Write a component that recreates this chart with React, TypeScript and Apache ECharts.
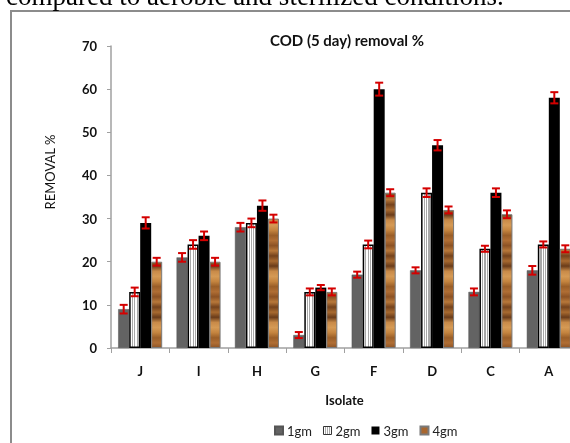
import React, { useEffect, useRef } from 'react';
import * as echarts from 'echarts';

const categories = ['J', 'I', 'H', 'G', 'F', 'D', 'C', 'A'];
const seriesNames = ['1gm', '2gm', '3gm', '4gm'];
const values1gm = [9, 21, 28, 3, 17, 18, 13, 18];
const values2gm = [13, 24, 29, 13, 24, 36, 23, 24];
const values3gm = [29, 26, 33, 14, 60, 47, 36, 58];
const values4gm = [20, 20, 30, 13, 36, 32, 31, 23];
const errors1gm = [1, 1, 1, 0.7, 0.7, 0.7, 0.8, 1];
const errors2gm = [1, 1, 1, 0.8, 0.9, 1, 0.7, 0.7];
const errors3gm = [1.3, 1, 1.2, 0.6, 1.5, 1.2, 1, 1.3];
const errors4gm = [0.9, 0.9, 0.9, 0.8, 0.8, 0.8, 0.9, 0.8];
const yMin = 0;
const yMax = 70;
const yInterval = 10;

const FONT = 'Lato, "Open Sans", sans-serif';
const BAR_W = 11;

const stripeFill = {
  type: 'linear', x: 0, y: 0, x2: 1, y2: 0,
  colorStops: [
    { offset: 0, color: '#ffffff' }, { offset: 0.2, color: '#ffffff' },
    { offset: 0.2, color: '#a8a8a8' }, { offset: 0.32, color: '#a8a8a8' },
    { offset: 0.32, color: '#ffffff' }, { offset: 0.45, color: '#ffffff' },
    { offset: 0.45, color: '#a8a8a8' }, { offset: 0.57, color: '#a8a8a8' },
    { offset: 0.57, color: '#ffffff' }, { offset: 0.7, color: '#ffffff' },
    { offset: 0.7, color: '#a8a8a8' }, { offset: 0.82, color: '#a8a8a8' },
    { offset: 0.82, color: '#ffffff' }, { offset: 1, color: '#ffffff' },
  ],
};

const woodPalette = ['#b8783a', '#9a5e28', '#c88a48', '#74421c', '#b06e34', '#d59a55', '#a86a30', '#8c5224', '#c4843f', '#6a3c1a'];
const woodStops: { offset: number; color: string }[] = [];
const WOOD_BANDS = 60;
for (let i = 0; i < WOOD_BANDS; i++) {
  woodStops.push({ offset: i / (WOOD_BANDS - 1), color: woodPalette[(i * 3) % woodPalette.length] });
}
const woodFill = { type: 'linear', x: 0, y: 46, x2: 0, y2: 348, global: true, colorStops: woodStops };

export default function App() {
  const ref = useRef<HTMLDivElement>(null);
  useEffect(() => {
    if (!ref.current) return;
    const chart = echarts.init(ref.current, null, { renderer: 'svg' });
    const values = [values1gm, values2gm, values3gm, values4gm];
    const errors = [errors1gm, errors2gm, errors3gm, errors4gm];
    const styles = [
      { color: '#636363', borderColor: '#555555', borderWidth: 0.5 },
      { color: stripeFill, borderColor: '#000000', borderWidth: 1.5 },
      { color: '#000000' },
      { color: woodFill, borderColor: '#7a7a7a', borderWidth: 1 },
    ];
    const legendIcons = [
      { color: '#636363' },
      { color: stripeFill, borderColor: '#333', borderWidth: 1 },
      { color: '#000000' },
      { color: '#a8662e' },
    ];
    const errData: number[][] = [];
    values.forEach((arr, si) => arr.forEach((v, ci) => errData.push([ci, si, v, errors[si][ci]])));

    const barSeries = seriesNames.map((name, si) => ({
      name,
      type: 'bar',
      data: values[si],
      barWidth: BAR_W,
      barGap: '0%',
      itemStyle: styles[si],
      z: 2,
    }));

    chart.setOption({
      animation: false,
      textStyle: { fontFamily: FONT },
      title: {
        text: 'COD (5 day) removal %',
        left: 342,
        top: 27,
        textAlign: 'center',
        textStyle: { fontFamily: FONT, fontSize: 15, fontWeight: 'bold', color: '#111' },
      },
      legend: {
        data: seriesNames.map((n, i) => ({ name: n, itemStyle: legendIcons[i] })),
        left: 269,
        top: 419,
        itemWidth: 8,
        itemHeight: 8,
        itemGap: 11,
        icon: 'rect',
        textStyle: { fontFamily: FONT, fontSize: 13, color: '#222', padding: [0, 0, 0, -1] },
      },
      grid: { left: 111, right: 0, top: 46, bottom: 95, containLabel: false },
      xAxis: {
        type: 'category',
        data: categories,
        name: 'Isolate',
        nameLocation: 'middle',
        nameGap: 45,
        nameTextStyle: { fontFamily: FONT, fontSize: 13, fontWeight: 'bold', color: '#111', padding: [0, 0, 0, 0] },
        axisLine: { show: true, lineStyle: { color: '#a0a0a0', width: 1.5 } },
        axisTick: { show: true, length: 5, lineStyle: { color: '#a0a0a0' } },
        axisLabel: { fontFamily: FONT, fontSize: 13, fontWeight: 'bold', color: '#111', margin: 16 },
      },
      yAxis: {
        type: 'value',
        min: yMin,
        max: yMax,
        interval: yInterval,
        axisLine: { show: true, lineStyle: { color: '#a0a0a0', width: 1.5 } },
        axisTick: { show: true, length: 4, lineStyle: { color: '#a0a0a0' } },
        splitLine: { show: false },
        axisLabel: { fontFamily: FONT, fontSize: 13, fontWeight: 'bold', color: '#111', margin: 14 },
      },
      graphic: [
        {
          type: 'rect',
          shape: { x: 11, y: 11, width: 600, height: 480 },
          style: { fill: 'none', stroke: '#8c8c8c', lineWidth: 2 },
          z: -10,
        },
        {
          type: 'text',
          x: 6,
          y: -4,
          style: {
            text: 'compared to aerobic and sterilized conditions.',
            font: '27px "Liberation Serif", serif',
            fill: '#000',
            verticalAlign: 'middle',
          },
        },
        {
          type: 'text',
          x: 50,
          y: 172,
          rotation: Math.PI / 2,
          style: {
            text: 'REMOVAL %',
            font: '13px ' + FONT,
            fill: '#111',
            align: 'center',
            verticalAlign: 'middle',
          },
        },
      ],
      series: [
        ...barSeries,
        {
          type: 'custom',
          name: 'error',
          data: errData,
          encode: { x: 0, y: 2 },
          z: 5,
          silent: true,
          renderItem: (params: any, api: any) => {
            const ci = api.value(0);
            const si = api.value(1);
            const v = api.value(2);
            const e = api.value(3);
            const c = api.coord([ci, v]);
            const x = c[0] + (si - 1.5) * BAR_W;
            const top = api.coord([ci, v + e])[1];
            const bot = api.coord([ci, v - e])[1];
            const st = { stroke: '#d40000', lineWidth: 2 };
            return {
              type: 'group',
              children: [
                { type: 'line', shape: { x1: x, y1: top, x2: x, y2: bot }, style: st },
                { type: 'line', shape: { x1: x - 4, y1: top, x2: x + 4, y2: top }, style: st },
                { type: 'line', shape: { x1: x - 4, y1: bot, x2: x + 4, y2: bot }, style: st },
              ],
            };
          },
        },
      ],
    });
    return () => chart.dispose();
  }, []);
  return (
    <div style={{ position: 'fixed', left: 0, top: 0, width: 570, height: 443, overflow: 'hidden' }}>
      <div ref={ref} style={{ width: 578, height: 443 }} />
    </div>
  );
}
